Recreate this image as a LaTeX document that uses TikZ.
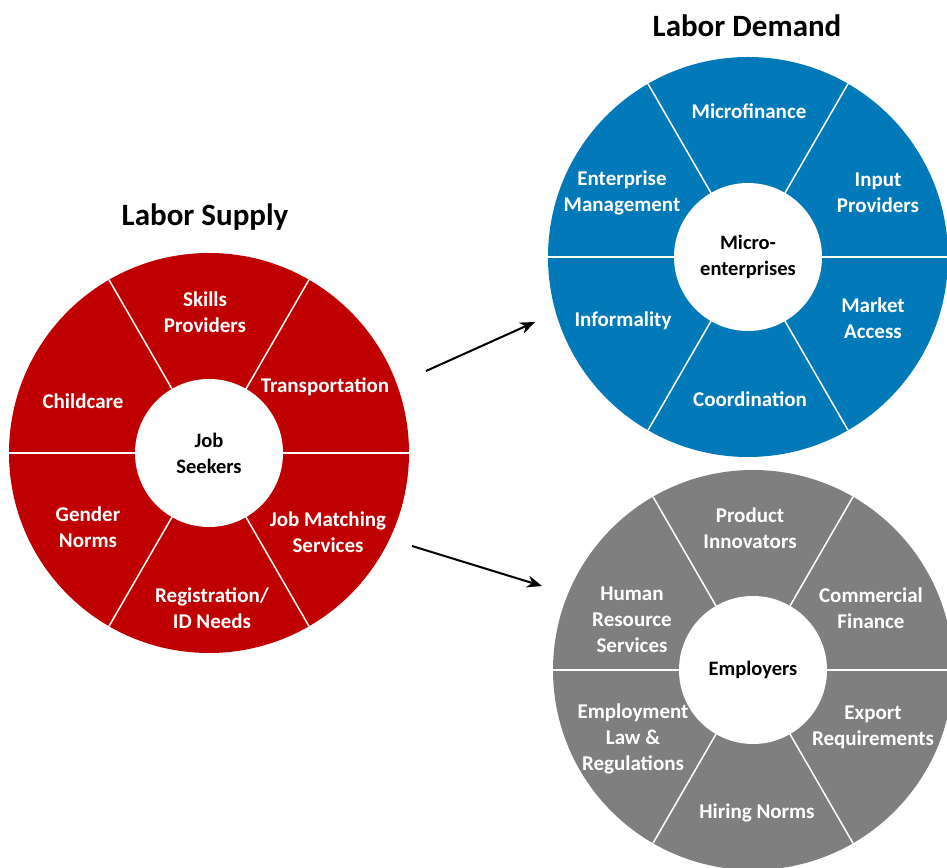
\documentclass[tikz,border=0pt]{standalone}
\usepackage{fontspec}
\setmainfont{Carlito}
\usetikzlibrary{shapes,arrows.meta,calc,positioning}
\definecolor{supplyred}{RGB}{192,0,0}
\definecolor{demandblue}{RGB}{2,121,184}
\definecolor{employgray}{RGB}{127,127,127}
\tikzset{wheel/.style={circle, minimum size=400pt, inner sep=0pt, outer sep=0pt}}
\tikzset{hub/.style={circle, fill=white, minimum size=148pt, inner sep=0pt, outer sep=0pt, align=center, font=\fontsize{20.5}{26}\selectfont\bfseries}}
\tikzstyle{seg}=[text=white, align=center, font=\fontsize{21}{26}\selectfont\bfseries]
\tikzstyle{sep}=[white, line width=1.5pt]
\tikzstyle{title}=[font=\fontsize{31}{36}\selectfont\bfseries]

\begin{document}
\begin{tikzpicture}[x=1pt, y=1pt, >={Stealth[length=15pt,width=12pt]}]
\useasboundingbox (0,0) rectangle (947,867);

% labor supply
\node[title] (supplytitle) at (205,650) {Labor Supply};
\node[wheel, fill=supplyred] (supply) at (209,414) {};
\node[hub] (seekers) at (supply) {Job\\Seekers};
\foreach \a in {0,60,...,300}
  \draw[sep] (seekers.\a) -- (supply.\a);
\node[seg] (skills) at ($(supply)+(-4,141)$) {Skills\\Providers};
\node[seg] (transport) at ($(supply)+(116,66)$) {Transportation};
\node[seg] (childcare) at ($(supply)+(-126,52)$) {Childcare};
\node[seg] (gender) at ($(supply)+(-121,-74)$) {Gender\\Norms};
\node[seg] (registration) at ($(supply)+(3,-155)$) {Registration/\\ID Needs};
\node[seg] (matching) at ($(supply)+(119,-79)$) {Job Matching\\Services};

% labor demand
\node[title] (demandtitle) at (747,841) {Labor Demand};
\node[wheel, fill=demandblue] (demand) at (748,610) {};
\node[hub] (microent) at (demand) {Micro-\\enterprises};
\foreach \a in {0,60,...,300}
  \draw[sep] (microent.\a) -- (demand.\a);
\node[seg] (microfinance) at ($(demand)+(1,146)$) {Microfinance};
\node[seg] (input) at ($(demand)+(130,64)$) {Input\\Providers};
\node[seg] (entmgmt) at ($(demand)+(-126,64)$) {Enterprise\\Management};
\node[seg] (informal) at ($(demand)+(-125,-64)$) {Informality};
\node[seg] (market) at ($(demand)+(125,-61)$) {Market\\Access};
\node[seg] (coord) at ($(demand)+(2,-142)$) {Coordination};

% employers
\node[wheel, fill=employgray] (employ) at (753,197) {};
\node[hub] (employers) at (employ) {Employers};
\foreach \a in {0,60,...,300}
  \draw[sep] (employers.\a) -- (employ.\a);
\node[seg] (product) at ($(employ)+(-3,142)$) {Product\\Innovators};
\node[seg] (commercial) at ($(employ)+(118,62)$) {Commercial\\Finance};
\node[seg] (hrserv) at ($(employ)+(-121,50)$) {Human\\Resource\\Services};
\node[seg] (emplaw) at ($(employ)+(-120,-69)$) {Employment\\Law \&\\Regulations};
\node[seg] (export) at ($(employ)+(120,-57)$) {Export\\Requirements};
\node[seg] (hiring) at ($(employ)+(4,-143)$) {Hiring Norms};

% arrows
\coordinate (up0) at (426,496);
\coordinate (up1) at (535,545);
\coordinate (dn0) at (412,321);
\coordinate (dn1) at (542,281);
\draw[->, line width=2pt] (up0) -- (up1);
\draw[->, line width=2pt] (dn0) -- (dn1);
\end{tikzpicture}
\end{document}
